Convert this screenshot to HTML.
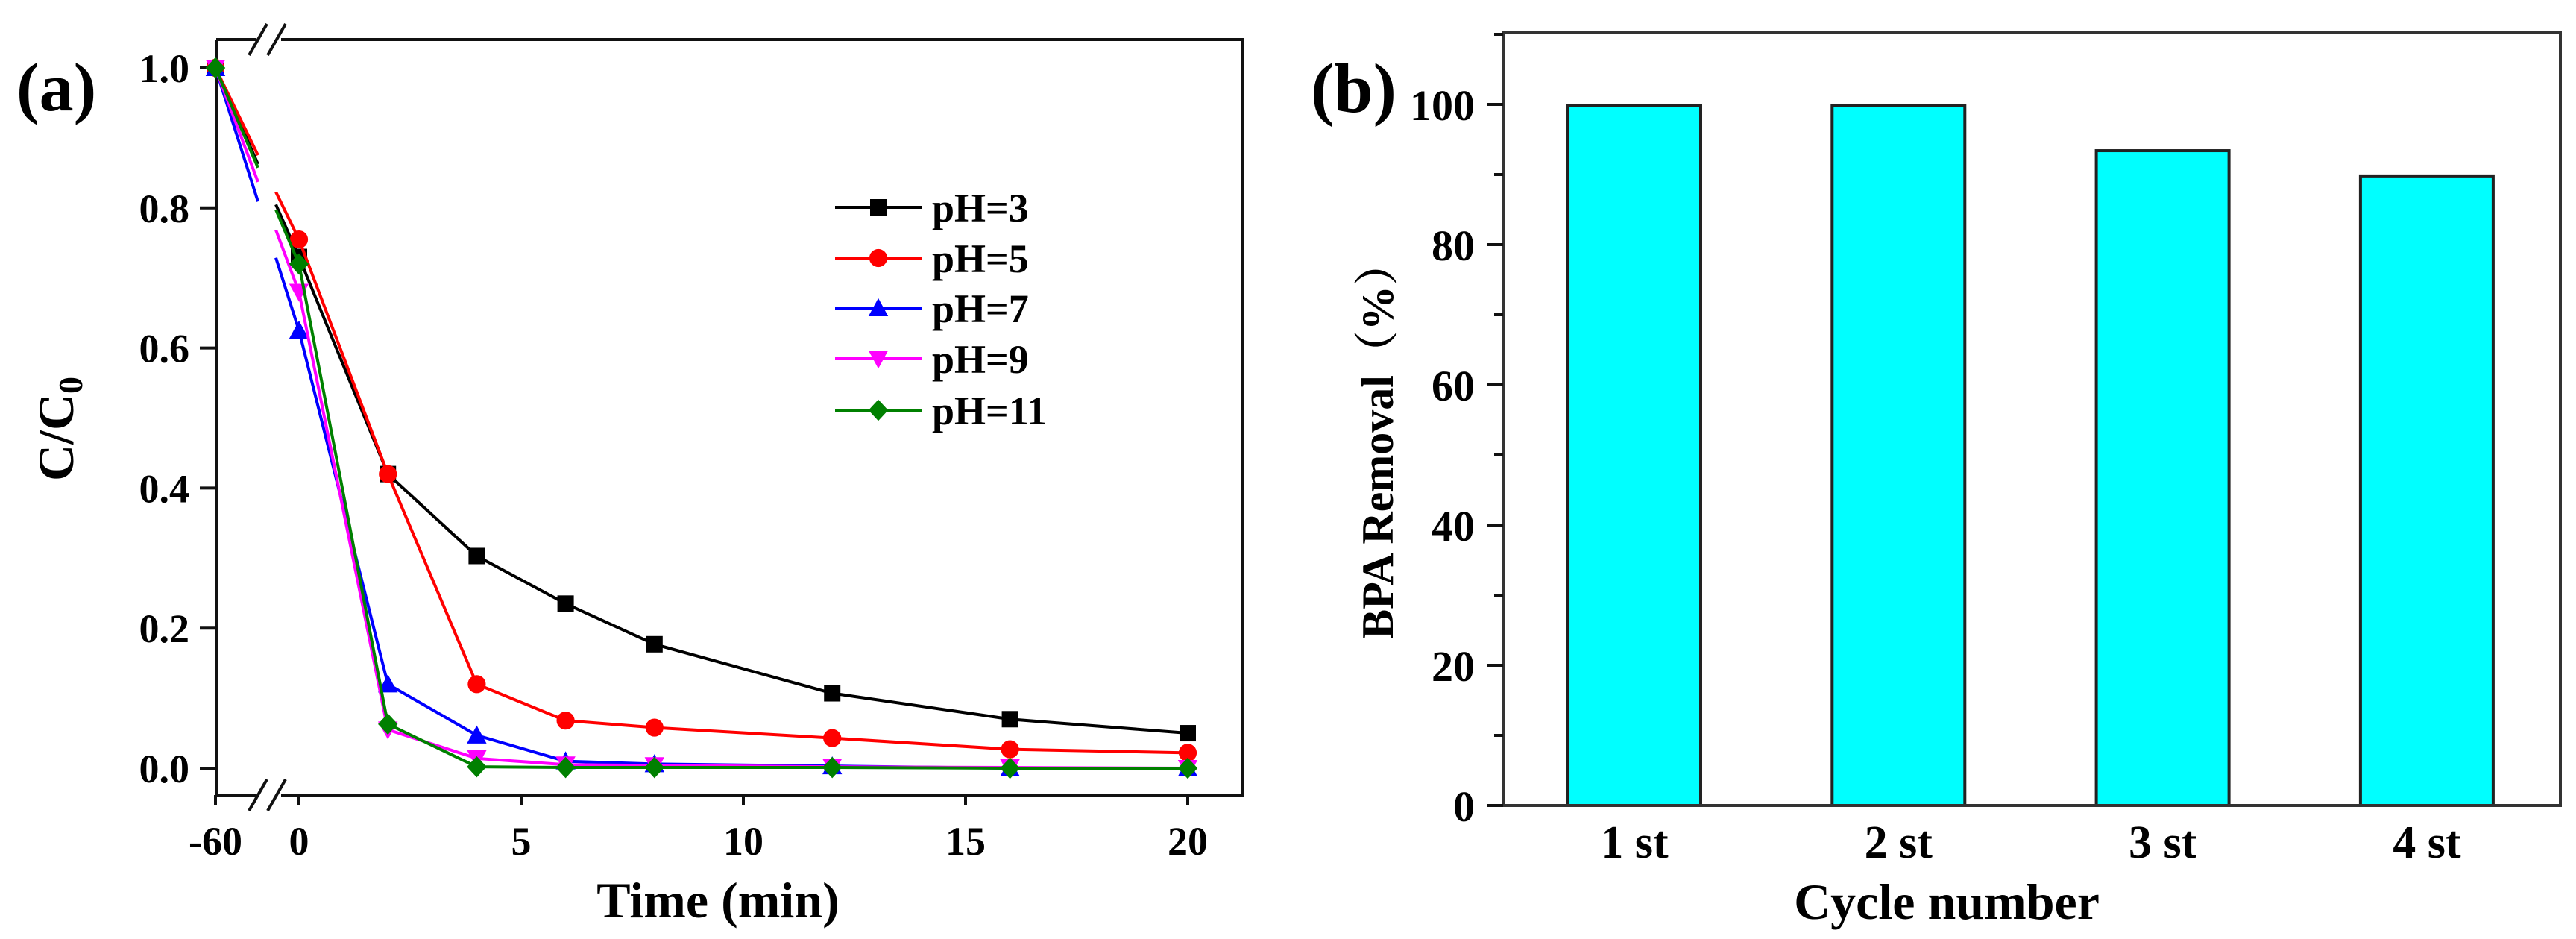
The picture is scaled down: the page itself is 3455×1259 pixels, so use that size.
<!DOCTYPE html>
<html><head><meta charset="utf-8"><style>
html,body{margin:0;padding:0;background:#fff;}
svg{display:block;}
text{font-family:"Liberation Serif","Noto Serif CJK SC",serif;font-weight:bold;fill:#000;}
</style></head><body>
<svg id="fig" xmlns="http://www.w3.org/2000/svg" width="3455" height="1259" viewBox="0 0 3455 1259">
<g id="pa"></g>
<g id="pb"></g>
</svg>
<script>
// ---------- Panel (a) data ----------
const timesA = [-60, 0, 2, 4, 6, 8, 12, 16, 20];
const seriesNames = ['pH=3', 'pH=5', 'pH=7', 'pH=9', 'pH=11'];
const pH3 = [1.0, 0.73, 0.42, 0.303, 0.235, 0.177, 0.107, 0.07, 0.05];
const pH5 = [1.0, 0.755, 0.42, 0.12, 0.068, 0.058, 0.043, 0.027, 0.022];
const pH7 = [1.0, 0.625, 0.12, 0.047, 0.01, 0.006, 0.003, 0.0, 0.0];
const pH9 = [1.0, 0.68, 0.055, 0.014, 0.005, 0.004, 0.002, 0.001, 0.0];
const pH11 = [1.0, 0.72, 0.063, 0.002, 0.001, 0.001, 0.001, 0.0, 0.0];
const xTicksA = [0, 5, 10, 15, 20];
const yTicksA = [0.0, 0.2, 0.4, 0.6, 0.8, 1.0];
// ---------- Panel (b) data ----------
const cycles = ['1 st', '2 st', '3 st', '4 st'];
const removal = [99.8, 99.8, 93.4, 89.8];
const yTicksB = [0, 20, 40, 60, 80, 100];

const NS = 'http://www.w3.org/2000/svg';
function mk(parent, tag, attrs, txt) {
  const e = document.createElementNS(NS, tag);
  for (const k in attrs) e.setAttribute(k, attrs[k]);
  if (txt !== undefined) e.textContent = txt;
  parent.appendChild(e);
  return e;
}

// ===== Panel A =====
const pa = document.getElementById('pa');
const A = {L: 290, R: 1666, T: 53, B: 1066};
function xa(t) { return t < 0 ? 289 : 401 + t * (1593 - 401) / 20; }
function ya(v) { return 1030 - v * 939; }
const brkLo = 346, brkHi = 370;

// frame with breaks
let el;
el = mk(pa, 'path', {d: `M${A.L},${A.B} L343,${A.B} M377,${A.B} L${A.R},${A.B} L${A.R},${A.T} L377,${A.T} M343,${A.T} L${A.L},${A.T} Z`, fill: 'none', stroke: '#111', 'stroke-width': 4});


el = mk(pa, 'line', {x1: A.L, y1: A.T, x2: A.L, y2: A.B, stroke: '#111', 'stroke-width': 4});


// break marks
[A.T, A.B].forEach(function (yy) {
  [0, 25].forEach(function (dx) {
    const m = mk(pa, 'line', {x1: 334 + dx, y1: yy + 21, x2: 358 + dx, y2: yy - 21, stroke: '#111', 'stroke-width': 4});
    
    
  });
});
// x ticks
const xtA = [-60].concat(xTicksA);
xtA.forEach(function (t) {
  const x = xa(t);
  const tk = mk(pa, 'line', {x1: x, y1: A.B, x2: x, y2: A.B + 14, stroke: '#111', 'stroke-width': 4});
  
  
  const lb = mk(pa, 'text', {x: x, y: 1146, 'font-size': 54, 'text-anchor': 'middle'}, String(t));
  
  
});
// y ticks
yTicksA.forEach(function (v) {
  const y = ya(v);
  const tk = mk(pa, 'line', {x1: A.L - 22, y1: y, x2: A.L, y2: y, stroke: '#111', 'stroke-width': 4});
  
  
  const lb = mk(pa, 'text', {x: 254, y: y + 19, 'font-size': 54, 'text-anchor': 'end'}, v.toFixed(1));
  
  
});
el = mk(pa, 'text', {x: 963, y: 1230, 'font-size': 68, 'text-anchor': 'middle'}, 'Time (min)');


el = mk(pa, 'text', {transform: 'translate(98,575) rotate(-90)', 'font-size': 68, 'text-anchor': 'middle'});


mk(el, 'tspan', {}, 'C/C');
mk(el, 'tspan', {'font-size': 46, dy: 12}, '0');
el = mk(pa, 'text', {x: 22, y: 148, 'font-size': 92}, '(a)');



const allSeries = [pH3, pH5, pH7, pH9, pH11];
const colors = ['#000000', '#ff0000', '#0000ff', '#ff00ff', '#008000'];
const shapes = ['square', 'circle', 'tri-up', 'tri-down', 'diamond'];
function marker(g, shape, x, y, c, s) {
  let m;
  if (shape === 'square') m = mk(g, 'rect', {x: x - s, y: y - s, width: 2 * s, height: 2 * s, fill: c});
  else if (shape === 'circle') m = mk(g, 'circle', {cx: x, cy: y, r: s * 1.1, fill: c});
  else if (shape === 'tri-up') m = mk(g, 'polygon', {points: `${x},${y - s * 1.2} ${x - s * 1.2},${y + s} ${x + s * 1.2},${y + s}`, fill: c});
  else if (shape === 'tri-down') m = mk(g, 'polygon', {points: `${x},${y + s * 1.2} ${x - s * 1.2},${y - s} ${x + s * 1.2},${y - s}`, fill: c});
  else m = mk(g, 'polygon', {points: `${x},${y - s * 1.3} ${x + s * 1.2},${y} ${x},${y + s * 1.3} ${x - s * 1.2},${y}`, fill: c});
  return m;
}
allSeries.forEach(function (vals, si) {
  const g = mk(pa, 'g', {});
  
  
  const c = colors[si];
  // broken first segment
  const x0 = xa(timesA[0]), y0 = ya(vals[0]), x1 = xa(timesA[1]), y1 = ya(vals[1]);
  const yAt = function (x) { return y0 + (y1 - y0) * (x - x0) / (x1 - x0); };
  let d = `M${x0},${y0} L${brkLo},${yAt(brkLo)} M${brkHi},${yAt(brkHi)} L${x1},${y1}`;
  for (let i = 2; i < timesA.length; i++) d += ` L${xa(timesA[i])},${ya(vals[i])}`;
  const ln = mk(g, 'path', {d: d, fill: 'none', stroke: c, 'stroke-width': 4, 'stroke-linejoin': 'round'});
  
  
  for (let i = 0; i < timesA.length; i++) {
    const m = marker(g, shapes[si], xa(timesA[i]), ya(vals[i]), c, 11);
    
    
  }
});
// legend
const legRows = [278, 346, 413, 481, 550];
seriesNames.forEach(function (n, si) {
  const g = mk(pa, 'g', {});
  
  
  const y = legRows[si];
  mk(g, 'line', {x1: 1120, y1: y, x2: 1236, y2: y, stroke: colors[si], 'stroke-width': 4});
  marker(g, shapes[si], 1178, y, colors[si], 11);
  mk(g, 'text', {x: 1250, y: y + 19, 'font-size': 54}, n);
});

// ===== Panel B =====
const pb = document.getElementById('pb');
const B = {L: 2016, R: 3434, T: 43, B: 1080};
function yb(v) { return 1080 - v * 9.4; }
function xb(i) { return 2192 + i * 354.3; }
const barW = 178;
cycles.forEach(function (c, i) {
  const r = mk(pb, 'rect', {x: xb(i) - barW / 2, y: yb(removal[i]), width: barW, height: yb(0) - yb(removal[i]), fill: '#00ffff', stroke: '#222', 'stroke-width': 4});
  
  
  const lb = mk(pb, 'text', {x: xb(i), y: 1150, 'font-size': 62, 'text-anchor': 'middle'}, c);
  
  
});
el = mk(pb, 'path', {d: `M${B.L},${B.B} L${B.R},${B.B} L${B.R},${B.T} L${B.L},${B.T} Z`, fill: 'none', stroke: '#333', 'stroke-width': 4});


yTicksB.forEach(function (v) {
  const y = yb(v);
  const tk = mk(pb, 'line', {x1: B.L - 22, y1: y, x2: B.L, y2: y, stroke: '#111', 'stroke-width': 4});
  
  
  const mt = mk(pb, 'line', {x1: B.L - 12, y1: yb(v + 10), x2: B.L, y2: yb(v + 10), stroke: '#111', 'stroke-width': 4});
  
  
  const lb = mk(pb, 'text', {x: 1978, y: y + 21, 'font-size': 58, 'text-anchor': 'end'}, String(v));
  
  
});
el = mk(pb, 'text', {x: 2611, y: 1232, 'font-size': 68, 'text-anchor': 'middle'}, 'Cycle number');


el = mk(pb, 'text', {transform: 'translate(1868,590) rotate(-90)', 'font-size': 60, 'text-anchor': 'middle'}, 'BPA Removal（%）');


el = mk(pb, 'text', {x: 1758, y: 150, 'font-size': 94}, '(b)');


</script>
</body></html>
